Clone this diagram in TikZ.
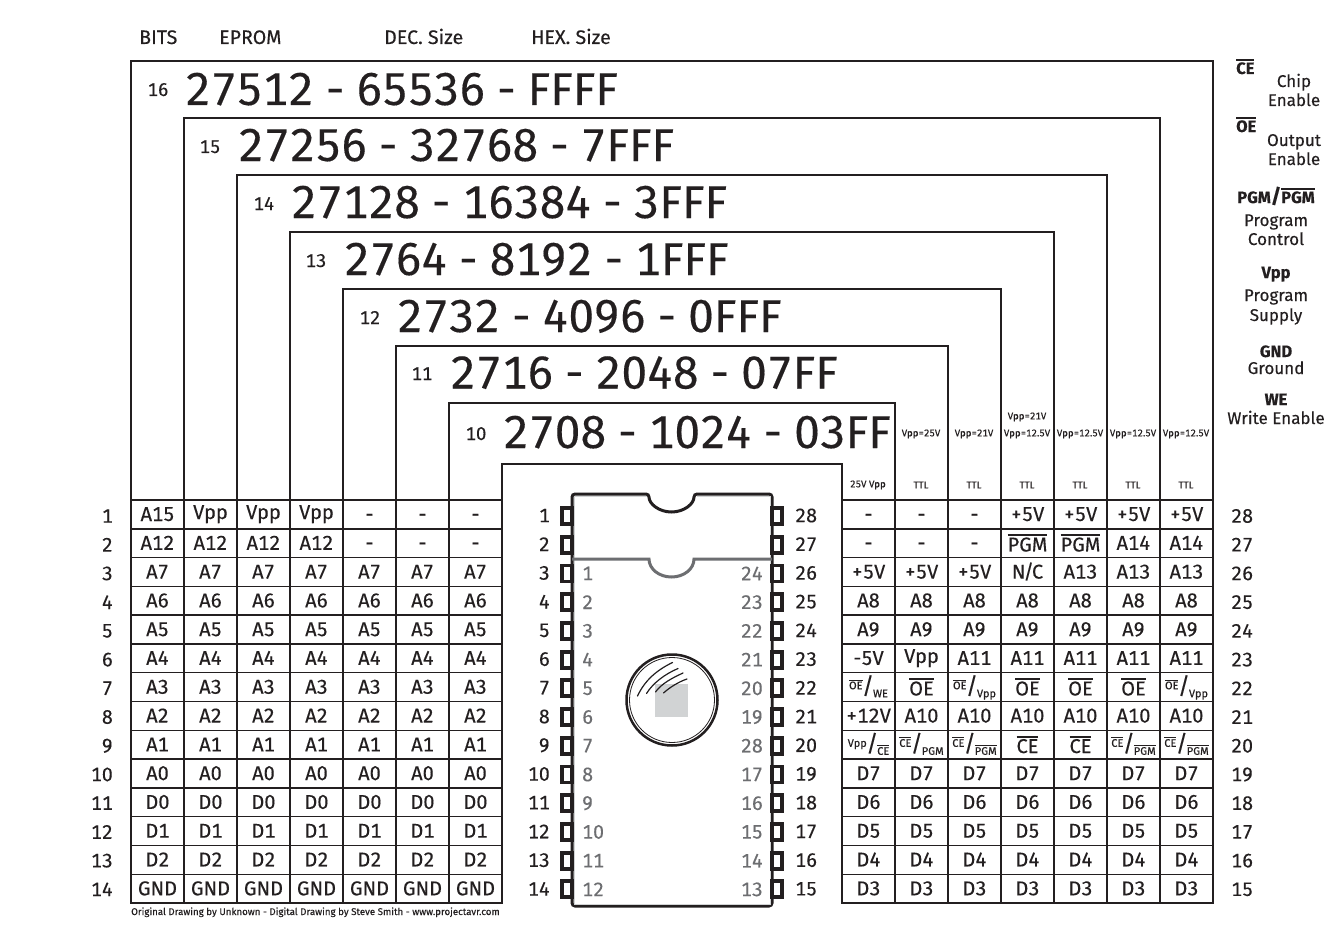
\documentclass[tikz,border=0pt]{standalone}
\usepackage{fontspec}
\setmainfont{Fira Sans}[Numbers=Monospaced,FakeBold=0.25]
\definecolor{ink}{HTML}{231F20}
\definecolor{chipgray}{HTML}{6D6E71}
\definecolor{winfill}{HTML}{D1D3D4}
\newcommand{\fsz}[1]{\fontsize{#1}{#1}\selectfont}
\newcommand{\barT}[2][2.2]{\leavevmode\vbox{\hrule height #1pt\kern 1.2pt\hbox{#2}}}
\newcommand{\barC}[1]{\raisebox{-1.7pt}{\barT{#1}}}
\newcommand{\frc}[2]{\raisebox{4.5pt}{\fsz{11}#1}\kern-0.5pt{\fsz{23}/}\kern-1pt\raisebox{-3.5pt}{\fsz{11}#2}}
\newcommand{\sbar}[1]{\barT[0.8]{#1}}
\newcommand{\upv}{\raisebox{2pt}{Vpp}}
\tikzset{
 x=1pt,y=-1pt,
 frame/.style={draw=ink,line width=1.5pt,line cap=rect},
 cell/.style={inner sep=0pt,anchor=base,text=ink,font=\fsz{20}},
 small/.style={inner sep=0pt,text=ink,font=\fsz{9.7}},
 pinnum/.style={inner sep=0pt,text=ink,font=\fsz{19.5}},
 ghost/.style={inner sep=0pt,text=chipgray,font=\fsz{19.5}},
 title/.style={inner sep=0pt,anchor=base west,text=ink,font=\fsz{46}},
 bitnum/.style={inner sep=0pt,text=ink,font=\fsz{18.5}},
 header/.style={inner sep=0pt,anchor=base west,text=ink,font=\fsz{19.6}},
 legendhead/.style={inner sep=0pt,anchor=base,text=ink,font=\fsz{16.5}\bfseries},
 legend/.style={inner sep=0pt,anchor=base,text=ink,font=\fsz{17}},
 pinbox/.style={draw=ink,line width=3.8pt,fill=white},
 halo/.style={draw=winfill,line width=0.9pt},
}
\begin{document}
\begin{tikzpicture}
\useasboundingbox (0,0) rectangle (1343,947);
\fill[white] (0,0) rectangle (1343,947);
% nested frames
\foreach \l/\r/\t in {131/1213/61,184/1160/118,237/1107/175,290/1054/232,343/1001/289,396/948/346,449/895/403,502/842/464}
  \draw[frame] (\l,903) -- (\l,\t) -- (\r,\t) -- (\r,903);
% table rows
\foreach \k in {0,...,14}{
  \pgfmathsetmacro\yy{500+28.79*\k}
  \draw[frame] (131,\yy) -- (502,\yy);
  \draw[frame] (842,\yy) -- (1213,\yy);
}
% headers
\node[header] (hbits) at (139,44) {BITS};
\node[header] (heprom) at (219,44) {EPROM};
\node[header] (hdec) at (384,44) {DEC. Size};
\node[header] (hhex) at (531,44) {HEX. Size};
% titles
\foreach \i/\n/\txt/\xn/\yn/\xt/\yt in {
 1/16/27512 - 65536 - FFFF/158/96/185/105,
 2/15/27256 - 32768 - 7FFF/210/153/238/161,
 3/14/27128 - 16384 - 3FFF/264/210/291/218,
 4/13/2764 - 8192 - 1FFF/316/267/344/275,
 5/12/2732 - 4096 - 0FFF/370/324/397/332,
 6/11/2716 - 2048 - 07FF/422/380/450/388.5,
 7/10/2708 - 1024 - 03FF/476/440/503/448}{
  \node[bitnum,anchor=base] (bit\i) at (\xn,\yn) {\n};
  \node[title] (ttl\i) at (\xt,\yt) {\spaceskip=.26em\relax\txt};
}
% left table
\newcommand{\lcell}[3]{\node[cell] (L#1-#2) at ({157.5+53*(#2-1)},{521+28.79*(#1-1)}) {#3};}
\foreach \c in {1,...,7}{
 \foreach \r/\v in {3/A7,4/A6,5/A5,6/A4,7/A3,8/A2,9/A1,10/A0,11/D0,12/D1,13/D2,14/GND}{\lcell{\r}{\c}{\v}}
 \foreach \r/\v in {19/D7,18/D6,17/D5,16/D4,15/D3,25/A8,24/A9}{
   \pgfmathtruncatemacro\rr{29-\r}
   \node[cell] (R\rr-\c) at ({868.5+53*(\c-1)},{521+28.79*(\rr-1)}) {\v};}
}
\lcell{1}{1}{A15}\lcell{1}{2}{\upv}\lcell{1}{3}{\upv}\lcell{1}{4}{\upv}\lcell{1}{5}{-}\lcell{1}{6}{-}\lcell{1}{7}{-}
\lcell{2}{1}{A12}\lcell{2}{2}{A12}\lcell{2}{3}{A12}\lcell{2}{4}{A12}\lcell{2}{5}{-}\lcell{2}{6}{-}\lcell{2}{7}{-}
% right table
\newcommand{\rcell}[3]{\node[cell] (R#1-#2) at ({868.5+53*(#2-1)},{521+28.79*(#1-1)}) {#3};}
\rcell{1}{1}{-}\rcell{1}{2}{-}\rcell{1}{3}{-}\rcell{1}{4}{+5V}\rcell{1}{5}{+5V}\rcell{1}{6}{+5V}\rcell{1}{7}{+5V}
\rcell{2}{1}{-}\rcell{2}{2}{-}\rcell{2}{3}{-}\rcell{2}{4}{\barC{PGM}}\rcell{2}{5}{\barC{PGM}}\rcell{2}{6}{A14}\rcell{2}{7}{A14}
\rcell{3}{1}{+5V}\rcell{3}{2}{+5V}\rcell{3}{3}{+5V}\rcell{3}{4}{N\kern-2pt/\kern-2pt C}\rcell{3}{5}{A13}\rcell{3}{6}{A13}\rcell{3}{7}{A13}
\rcell{6}{1}{-5V}\rcell{6}{2}{\upv}\rcell{6}{3}{A11}\rcell{6}{4}{A11}\rcell{6}{5}{A11}\rcell{6}{6}{A11}\rcell{6}{7}{A11}
\rcell{7}{1}{\frc{\sbar{OE}}{WE}}\rcell{7}{2}{\barC{OE}}\rcell{7}{3}{\frc{\sbar{OE}}{Vpp}}\rcell{7}{4}{\barC{OE}}\rcell{7}{5}{\barC{OE}}\rcell{7}{6}{\barC{OE}}\rcell{7}{7}{\frc{\sbar{OE}}{Vpp}}
\rcell{8}{1}{+12V}\rcell{8}{2}{A10}\rcell{8}{3}{A10}\rcell{8}{4}{A10}\rcell{8}{5}{A10}\rcell{8}{6}{A10}\rcell{8}{7}{A10}
\rcell{9}{1}{\frc{Vpp}{\sbar{CE}}}\rcell{9}{2}{\frc{\sbar{CE}}{PGM}}\rcell{9}{3}{\frc{\sbar{CE}}{\sbar{PGM}}}\rcell{9}{4}{\barC{CE}}\rcell{9}{5}{\barC{CE}}\rcell{9}{6}{\frc{\sbar{CE}}{\sbar{PGM}}}\rcell{9}{7}{\frc{\sbar{CE}}{\sbar{PGM}}}
% programming voltage labels
\foreach \i/\x/\txt in {2/921/Vpp=25V,3/974/Vpp=21V,4/1027/Vpp=12.5V,5/1080/Vpp=12.5V,6/1133/Vpp=12.5V,7/1186/Vpp=12.5V}
  \node[small] (vp\i) at (\x,434) {\txt};
\node[small] (vp4b) at (1027,417) {Vpp=21V};
\node[small] (tt1) at (868,485) {25V Vpp};
\foreach \i/\x in {2/921,3/974,4/1027,5/1080,6/1133,7/1186}
  \node[small] (tt\i) at (\x,485) {TTL};
% chip
\draw[ink,line width=3pt,fill=white,rounded corners=3pt] (572,906) -- (572,494) -- (649,494)
  arc[start angle=180,end angle=360,x radius=22.5,y radius=-18] -- (772,494) -- (772,906) -- cycle;
\draw[halo] (574,496) -- (574,904) -- (770,904) -- (770,496);
\draw[halo] (574,496) -- (647,496);
\draw[halo] (697,496) -- (770,496);
\draw[chipgray,line width=3pt] (572,559) -- (649,559)
  arc[start angle=180,end angle=360,x radius=22.5,y radius=-18] -- (772,559);
\foreach \k in {1,...,14}{
  \pgfmathsetmacro\yy{516+28.72*(\k-1)}
  \pgfmathtruncatemacro\rn{29-\k}
  \draw[pinbox] (572,\yy-8) rectangle (562,\yy+8);
  \draw[pinbox] (772,\yy-8) rectangle (782,\yy+8);
  \node[pinnum,anchor=east] (pl\k) at (550,\yy-0.5) {\k};
  \node[pinnum,anchor=west] (pr\k) at (795,\yy-0.5) {\rn};
  \node[pinnum,anchor=east] (rl\k) at (113,\yy) {\k};
  \node[pinnum,anchor=west] (rr\k) at (1231,\yy) {\rn};
}
\foreach \k/\a/\b in {3/1/24,4/2/23,5/3/22,6/4/21,7/5/20,8/6/19,9/7/28,10/8/17,11/9/16,12/10/15,13/11/14,14/12/13}{
  \pgfmathsetmacro\yy{516+28.72*(\k-1)}
  \node[ghost,anchor=west] (gl\k) at (582,\yy) {\a};
  \node[ghost,anchor=east] (gr\k) at (763,\yy) {\b};
}
% window
\fill[winfill] (655,684) rectangle (688,717);
\draw[ink,line width=2.5pt] (672,700) circle[radius=45.5];
\draw[ink,line width=0.8pt] (672,700) circle[radius=42.5];
\draw[ink,line width=1.2pt,line cap=round] (637.5,696) .. controls (645,680) and (657,670) .. (672.5,662.5);
\draw[ink,line width=1.2pt,line cap=round] (646.5,693.5) .. controls (653,683) and (665,674) .. (678,668.5);
\draw[ink,line width=1.2pt,line cap=round] (655.5,692) .. controls (661,684) and (672,678) .. (683,673);
\draw[ink,line width=1.2pt,line cap=round] (663.5,693) .. controls (669,688) and (678,682) .. (687,679);
% legend
\node[legendhead,anchor=base west] (lce) at (1236,74) {\barT[1.8]{CE}};
\node[legend] (lce2) at (1294,87) {Chip};
\node[legend] (lce3) at (1294,106) {Enable};
\node[legendhead,anchor=base west] (loe) at (1236,132) {\barT[1.8]{OE}};
\node[legend] (loe2) at (1294,146) {Output};
\node[legend] (loe3) at (1294,165) {Enable};
\node[legendhead] (lpg) at (1276,203) {PGM{\fsz{20}/}\barT[1.8]{PGM}};
\node[legend] (lpg2) at (1276,226) {Program};
\node[legend] (lpg3) at (1276,245) {Control};
\node[legendhead] (lvp) at (1276,278) {Vpp};
\node[legend] (lvp2) at (1276,301) {Program};
\node[legend] (lvp3) at (1276,321) {Supply};
\node[legendhead] (lgn) at (1276,357) {GND};
\node[legend] (lgn2) at (1276,374) {Ground};
\node[legendhead] (lwe) at (1276,405) {WE};
\node[legend] (lwe2) at (1276,424) {Write Enable};
% footer
\node[small,anchor=base west] (foot) at (131,915) {Original Drawing by Unknown - Digital Drawing by Steve Smith - www.projectavr.com};
\end{tikzpicture}
\end{document}
